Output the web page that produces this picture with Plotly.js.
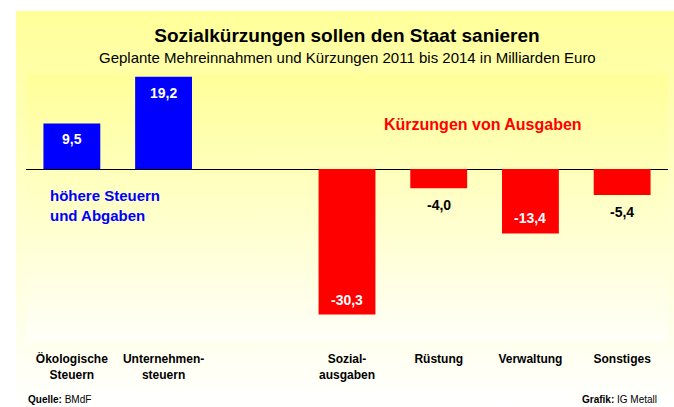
<!DOCTYPE html>
<html>
<head>
<meta charset="utf-8">
<script src="https://cdn.plot.ly/plotly-3.0.1.min.js"></script>
<style>
  html, body { margin: 0; padding: 0; background: #ffffff; }
  #wrap { position: relative; width: 674px; height: 407px; overflow: hidden; }
  #panel { position: absolute; left: 16px; top: 11px; width: 658px; height: 396px;
           background: linear-gradient(to bottom, #FFFF99 0%, #FFFFFF 100%); }
  #inner { position: absolute; left: 26px; top: 73px; width: 642px; height: 269px;
           background: linear-gradient(to bottom, #FFFF99 0%, #FFFFF8 100%); }
  #chart { position: absolute; left: 0; top: 0; width: 674px; height: 407px; }
</style>
</head>
<body>
<div id="wrap">
  <div id="panel"></div>
  <div id="inner"></div>
  <div id="chart"></div>
</div>
<script>
// ---- data ----
const categories = ['Ökologische<br>Steuern', 'Unternehmen-<br>steuern', 'Sozial-<br>ausgaben', 'Rüstung', 'Verwaltung', 'Sonstiges'];
const values = [9.5, 19.2, -30.3, -4.0, -13.4, -5.4];
const labelInside = [true, true, true, false, true, false];
const spacer = ' ';
const axisOrder = [categories[0], categories[1], spacer, categories[2], categories[3], categories[4], categories[5]];

const titleText = '<b>Sozialkürzungen sollen den Staat sanieren</b>';
const subtitleText = 'Geplante Mehreinnahmen und Kürzungen 2011 bis 2014 in Milliarden Euro';
const posNote = '<b>höhere Steuern<br>und Abgaben</b>';
const negNote = '<b>Kürzungen von Ausgaben</b>';
const sourceText = '<b>Quelle:</b> BMdF';
const creditText = '<b>Grafik:</b> IG Metall';

// ---- styles ----
const FONT = '"Liberation Sans", Arial, sans-serif';
const BLUE = '#0000FF';
const RED = '#FF0000';

const fmt = v => v.toFixed(1).replace('.', ',');

const trace = {
  type: 'bar',
  x: categories,
  y: values,
  width: 0.62,
  marker: { color: values.map(v => v >= 0 ? BLUE : RED), line: { width: 0 } },
  hoverinfo: 'skip'
};

const valueAnnotations = values.map((v, i) => {
  const inside = labelInside[i];
  let shift;
  if (inside) shift = v >= 0 ? -16 : 15;
  else shift = -17;
  return {
    x: categories[i], y: v, xref: 'x', yref: 'y',
    text: '<b>' + fmt(v) + '</b>',
    showarrow: false, yshift: shift, xanchor: 'center', yanchor: 'middle',
    font: { family: FONT, size: 14, color: inside ? '#FFFFFF' : '#000000' }
  };
});

const layout = {
  width: 674, height: 407,
  margin: { l: 26, r: 6, t: 73, b: 65 },
  paper_bgcolor: 'rgba(0,0,0,0)',
  plot_bgcolor: 'rgba(0,0,0,0)',
  showlegend: false,
  title: {
    text: titleText, x: 0.5, xref: 'paper', xanchor: 'center',
    y: 1 - 35 / 407, yref: 'container', yanchor: 'middle',
    font: { family: FONT, size: 19, color: '#000000' }
  },
  xaxis: {
    type: 'category', categoryorder: 'array', categoryarray: axisOrder,
    range: [-0.5, 6.5], showgrid: false, zeroline: false, showline: false,
    ticks: '', ticklabelstandoff: 8,
    tickfont: { family: FONT, size: 12, color: '#000000', weight: 'bold' },
    fixedrange: true
  },
  yaxis: {
    range: [-36, 20], showgrid: false, showticklabels: false, ticks: '',
    showline: false, zeroline: true, zerolinecolor: '#000000', zerolinewidth: 1,
    fixedrange: true
  },
  annotations: [
    { text: subtitleText, xref: 'paper', yref: 'paper', x: 0.5, y: 1 + 16 / 269,
      xanchor: 'center', yanchor: 'middle', showarrow: false,
      font: { family: FONT, size: 15, color: '#000000' } },
    { text: negNote, xref: 'paper', yref: 'paper', x: 0.712, y: 0.81,
      xanchor: 'center', yanchor: 'middle', showarrow: false,
      font: { family: FONT, size: 16, color: RED } },
    { text: posNote, xref: 'paper', yref: 'paper', x: 0.034, y: 0.506,
      xanchor: 'left', yanchor: 'middle', align: 'left', showarrow: false,
      font: { family: FONT, size: 15, color: BLUE } },
    { text: sourceText, xref: 'paper', yref: 'paper', x: 0, y: -57 / 269,
      xanchor: 'left', yanchor: 'middle', showarrow: false,
      font: { family: FONT, size: 10, color: '#000000' } },
    { text: creditText, xref: 'paper', yref: 'paper', x: 0.986, y: -57 / 269,
      xanchor: 'right', yanchor: 'middle', showarrow: false,
      font: { family: FONT, size: 10, color: '#000000' } }
  ].concat(valueAnnotations)
};

Plotly.newPlot('chart', [trace], layout, { displayModeBar: false, staticPlot: true });
</script>
</body>
</html>
